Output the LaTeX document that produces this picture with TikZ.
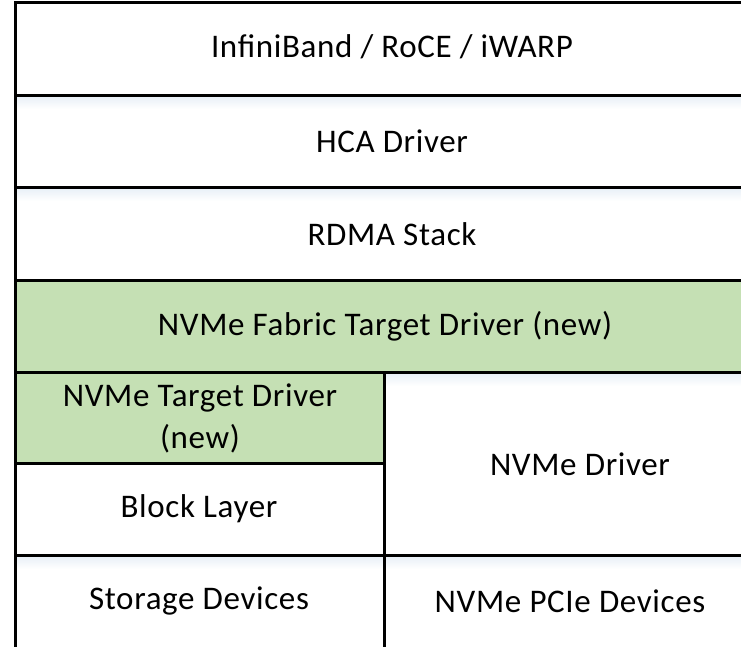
\documentclass[tikz,border=0pt]{standalone}
\usepackage{fontspec}
\setmainfont{Carlito}[LetterSpace=2]
\definecolor{newgreen}{HTML}{C5E0B4}
\definecolor{edgeshade}{HTML}{E6EEF6}
\tikzset{
  border/.style={draw=black, line width=3pt},
  lbl/.style={font=\fontsize{33}{42}\selectfont, align=center, inner sep=0pt},
}
\begin{document}
\begin{tikzpicture}[x=1pt, y=-1pt]
  \useasboundingbox (0,0) rectangle (741,646);
  \clip (0,0) rectangle (741,646);
  % green fills of the new layers
  \fill[newgreen] (15,280) rectangle (775,372);
  \fill[newgreen] (15,372) rectangle (384,463);
  % faint shade under the upper edges of the white layers
  \foreach \y/\x in {95/15, 187/15, 555/15, 372/384}{
    \shade[top color=edgeshade, bottom color=white] (\x,\y) rectangle (741,\y+14);
  }
  % stack of layers, the right edge runs past the page
  \draw[border] (15,2)   rectangle (775,95);
  \draw[border] (15,95)  rectangle (775,187);
  \draw[border] (15,187) rectangle (775,280);
  \draw[border] (15,280) rectangle (775,372);
  \draw[border] (15,372) rectangle (384,463);
  \draw[border] (15,463) rectangle (384,555);
  \draw[border] (384,372) rectangle (775,555);
  \draw[border] (15,555) rectangle (384,680);
  \draw[border] (384,555) rectangle (775,680);
  % labels
  \node[lbl] (ib)    at (392,47)  {InfiniBand / RoCE / iWARP};
  \node[lbl] (hca)   at (392,141) {HCA Driver};
  \node[lbl] (rdma)  at (392,234) {RDMA Stack};
  \node[lbl] (fab)   at (385,326) {NVMe Fabric Target Driver (new)};
  \node[lbl] (tgt)   at (200,418) {NVMe Target Driver\\(new)};
  \node[lbl] (blk)   at (199,509) {Block Layer};
  \node[lbl] (nvme)  at (580,464) {NVMe Driver};
  \node[lbl] (stor)  at (199,601) {Storage Devices};
  \node[lbl] (pcie)  at (570,601) {NVMe PCIe  Devices};
\end{tikzpicture}
\end{document}
